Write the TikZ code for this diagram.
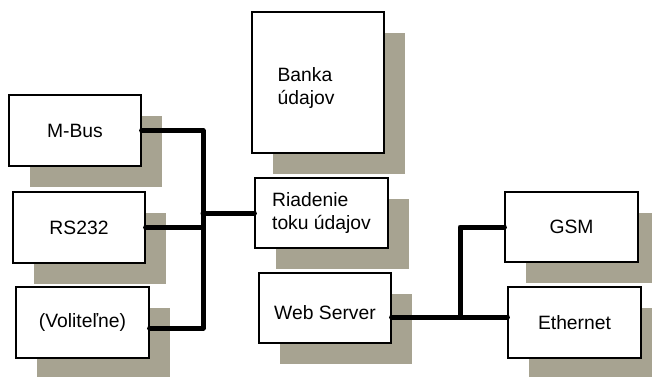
\documentclass[tikz,border=0pt]{standalone}
\usepackage{fontspec}
\setmainfont{Liberation Sans}
\usetikzlibrary{shadows}
\definecolor{shadowc}{RGB}{167,163,145}
\tikzset{
  blockbox/.style={draw=black, line width=1.2pt, fill=white, rectangle,
    minimum width=132pt, minimum height=71pt, inner sep=0pt, align=left,
    font=\fontsize{19.3}{22.5}\selectfont,
    drop shadow={shadow xshift=21pt, shadow yshift=-21pt, fill=shadowc, opacity=1}},
  blocktext/.style={inner sep=0pt, align=left, font=\fontsize{19.3}{22.5}\selectfont},
  wire/.style={draw=black, line width=5pt, line cap=round, line join=round}
}
\begin{document}
\begin{tikzpicture}[x=1pt, y=-1pt]
  \useasboundingbox (0,0) rectangle (652,376);

  % left-hand interfaces
  \node[blockbox] (mbus) at (75,130.5) {M-Bus};
  \node[blockbox] (rs) at (79,227.5) {RS232};
  \node[blockbox, minimum width=133pt] (vol) at (82.5,322.5) {(Voliteľne)};

  % central blocks
  \node[blockbox, minimum height=141pt] (banka) at (318,82.5) {};
  \node[blocktext] (bankaText) at (306,88) {Banka\\údajov};
  \node[blockbox, minimum width=133pt, minimum height=70pt] (riad) at (321.5,213) {Riadenie\\toku údajov};
  \node[blockbox, minimum height=70pt] (web) at (325,308) {};
  \node[blocktext] (webText) at (325,313) {Web Server};

  % right-hand interfaces
  \node[blockbox, minimum width=133pt, minimum height=70pt] (gsm) at (571.5,227) {GSM};
  \node[blockbox, minimum width=133pt] (eth) at (574.5,322.5) {Ethernet};

  % bus lines
  \coordinate (busL) at (203,0);
  \coordinate (busR) at (460,0);
  \coordinate (volEnd) at ([yshift=-5.5pt]vol.east);
  \coordinate (webEnd) at ([yshift=-9pt]web.east);

  \draw[wire] (mbus.east) -- (mbus.east -| busL) -- (volEnd -| busL) -- (volEnd);
  \draw[wire] (rs.east) -- (rs.east -| busL);
  \draw[wire] (busL |- riad.west) -- (riad.west);

  \draw[wire] (webEnd) -- (webEnd -| eth.west);
  \draw[wire] (webEnd -| busR) -- (gsm.west -| busR) -- (gsm.west);
\end{tikzpicture}
\end{document}
